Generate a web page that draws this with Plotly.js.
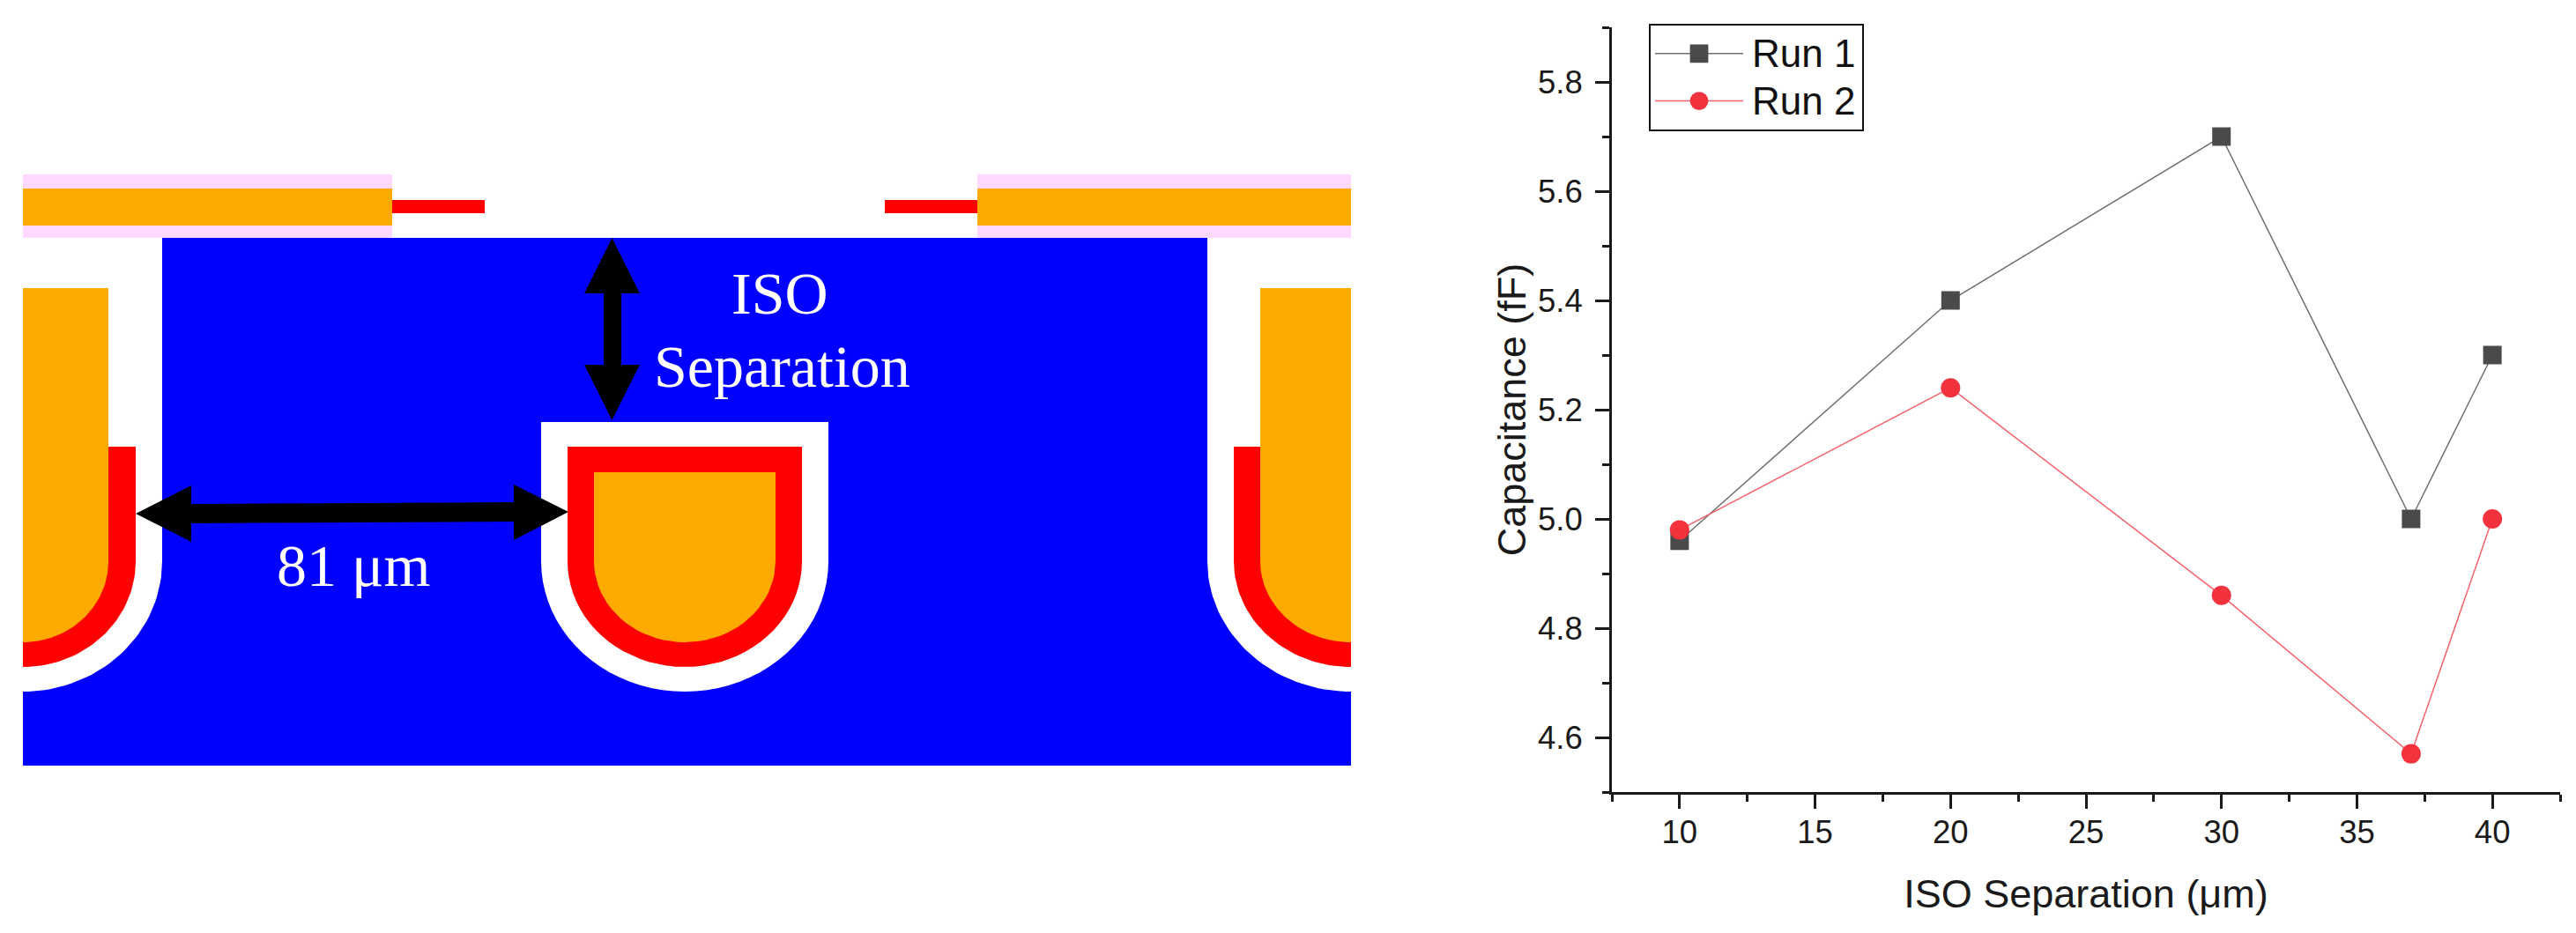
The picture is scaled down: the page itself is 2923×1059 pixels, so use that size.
<!DOCTYPE html>
<html>
<head>
<meta charset="utf-8">
<script src="https://cdn.plot.ly/plotly-3.0.1.min.js"></script>
<style>html,body{margin:0;padding:0;background:#fff}#chart{width:2923px;height:1059px}</style>
</head>
<body>
<div id="chart"></div>
<script>
// ---- Chart data ----
const isoSeparation = [10, 20, 30, 37, 40];
const run1 = [4.96, 5.4, 5.7, 5.0, 5.3];
const run2 = [4.98, 5.24, 4.86, 4.57, 5.0];
const seriesNames = ['Run 1', 'Run 2'];
const xTitle = 'ISO Separation (μm)';
const yTitle = 'Capacitance (fF)';
const diagramLabels = ['ISO', 'Separation', '81 μm'];

// ---- Schematic geometry, in the schematic's own axis units ----
const BLUE = '#0000ff', WHITE = '#ffffff', RED = '#ff0000', ORANGE = '#ffaa00', PINK = '#ffd9ff', BLACK = '#000000';

function rect(x0, y0, x1, y1) { return [[x0, y0], [x1, y0], [x1, y1], [x0, y1]]; }
// A quarter/half of an ellipse sampled from angle a0 to a1 (degrees, 0 = +x, 90 = down)
function arc(cx, cy, rx, ry, a0, a1) {
  const pts = [];
  for (let i = 0; i <= 40; i++) {
    const a = (a0 + (a1 - a0) * i / 40) * Math.PI / 180;
    pts.push([cx + rx * Math.cos(a), cy + ry * Math.sin(a)]);
  }
  return pts;
}
const ARC_Y = 637;
const centreU = (cx, rx, ry, top) => [[cx - rx, top], [cx + rx, top]].concat(arc(cx, ARC_Y, rx, ry, 0, 180));
const leftU = (cx, rx, ry, top) => [[cx, top], [cx + rx, top]].concat(arc(cx, ARC_Y, rx, ry, 0, 90));
const rightU = (cx, rx, ry, top) => [[cx, top], [cx - rx, top]].concat(arc(cx, ARC_Y, rx, ry, 180, 90));

const diagramShapes = [
  [BLUE, rect(26, 270, 1533, 869)],
  [WHITE, leftU(26, 158, 148, 270)],
  [WHITE, rightU(1533, 163, 148, 270)],
  [WHITE, centreU(777, 163, 148, 479)],
  [RED, leftU(26, 128, 120, 507)],
  [RED, rightU(1533, 133, 120, 507)],
  [RED, centreU(777, 133, 120, 507)],
  [ORANGE, leftU(26, 97, 92, 327)],
  [ORANGE, rightU(1533, 103, 92, 327)],
  [ORANGE, centreU(777, 103, 92, 536)],
  [PINK, rect(26, 198, 445, 270)],
  [PINK, rect(1109, 198, 1533, 270)],
  [ORANGE, rect(26, 214, 445, 256)],
  [ORANGE, rect(1109, 214, 1533, 256)],
  [RED, rect(445, 227, 550, 242)],
  [RED, rect(1004, 227, 1109, 242)],
  [BLACK, [[694.5, 270], [726, 333], [705, 333], [705, 414], [726, 414], [694.5, 477], [663, 414], [685, 414], [685, 333], [663, 333]]],
  [BLACK, [[154, 583], [217, 551], [217, 572], [583, 570], [583, 550], [645, 581], [583, 613], [583, 592], [217, 594], [217, 615]]]
];

const diagramTraces = diagramShapes.map(([color, pts]) => ({
  type: 'scatter', mode: 'lines', xaxis: 'x2', yaxis: 'y2',
  x: pts.map(p => p[0]).concat(pts[0][0]),
  y: pts.map(p => p[1]).concat(pts[0][1]),
  fill: 'toself', fillcolor: color, line: {width: 0, color: color},
  hoverinfo: 'skip', showlegend: false
}));

const seriesTraces = [
  {type: 'scatter', mode: 'lines+markers', name: seriesNames[0], x: isoSeparation, y: run1,
   line: {color: '#6e6e6e', width: 1.5}, marker: {symbol: 'square', size: 21, color: '#4a4a4a'}},
  {type: 'scatter', mode: 'lines+markers', name: seriesNames[1], x: isoSeparation, y: run2,
   line: {color: '#f4636b', width: 1.5}, marker: {symbol: 'circle', size: 22, color: '#f2333d'}}
];

const W = 2923, H = 1059;
const axisFont = {family: '"Liberation Sans", Arial, sans-serif', size: 36.5, color: '#1a1a1a'};
const titleFont = {family: '"Liberation Sans", Arial, sans-serif', size: 45, color: '#1a1a1a'};
const serifWhite = {family: '"Liberation Serif", "Times New Roman", serif', size: 68, color: '#ffffff'};

const layout = {
  width: W, height: H,
  margin: {l: 0, r: 0, t: 0, b: 0, pad: 0},
  paper_bgcolor: '#ffffff', plot_bgcolor: 'rgba(0,0,0,0)',
  showlegend: true,
  legend: {
    x: 1871 / W, y: 1 - 27 / H, xanchor: 'left', yanchor: 'top',
    bgcolor: '#ffffff', bordercolor: '#111111', borderwidth: 2,
    font: {family: '"Liberation Sans", Arial, sans-serif', size: 39, color: '#111111'},
    itemwidth: 100, tracegroupgap: 0
  },
  xaxis: {
    domain: [1829 / W, 2905 / W], range: [7.5, 42.5], anchor: 'y',
    tick0: 0, dtick: 5, ticks: 'outside', ticklen: 16, tickwidth: 3, tickcolor: '#1a1a1a',
    minor: {tick0: 0, dtick: 2.5, ticks: 'outside', ticklen: 8, tickwidth: 3, tickcolor: '#1a1a1a', showgrid: false},
    showline: true, linecolor: '#1a1a1a', linewidth: 3, showgrid: false, zeroline: false,
    tickfont: axisFont, ticklabelstandoff: -5,
    title: {text: xTitle, font: titleFont, standoff: 35}
  },
  yaxis: {
    domain: [1 - 899 / H, 1 - 31 / H], range: [4.5, 5.9], anchor: 'x',
    tick0: 0, dtick: 0.2, tickformat: '.1f', ticks: 'outside', ticklen: 16, tickwidth: 3, tickcolor: '#1a1a1a',
    minor: {tick0: 0, dtick: 0.1, ticks: 'outside', ticklen: 8, tickwidth: 3, tickcolor: '#1a1a1a', showgrid: false},
    showline: true, linecolor: '#1a1a1a', linewidth: 3, showgrid: false, zeroline: false,
    tickfont: axisFont, ticklabelstandoff: 7,
    title: {text: yTitle, font: titleFont, standoff: 0}
  },
  xaxis2: {domain: [0, 1700 / W], range: [0, 1700], anchor: 'y2', visible: false, fixedrange: true},
  yaxis2: {domain: [0, 1], range: [H, 0], anchor: 'x2', visible: false, fixedrange: true},
  annotations: [
    {xref: 'x2', yref: 'y2', x: 885, y: 357, text: diagramLabels[0], showarrow: false, font: serifWhite, xanchor: 'center', yanchor: 'bottom', yshift: -16},
    {xref: 'x2', yref: 'y2', x: 887, y: 440, text: diagramLabels[1], showarrow: false, font: serifWhite, xanchor: 'center', yanchor: 'bottom', yshift: -16},
    {xref: 'x2', yref: 'y2', x: 401, y: 666, text: diagramLabels[2], showarrow: false, font: serifWhite, xanchor: 'center', yanchor: 'bottom', yshift: -16}
  ]
};

Plotly.newPlot('chart', diagramTraces.concat(seriesTraces), layout, {displayModeBar: false, staticPlot: true}).then(gd => {
  // Plotly caps legend markers and ties row height to the font: enlarge glyphs and box to match the reference legend
  gd.querySelectorAll('.legend .legendtext').forEach(t => {
    t.style.fontSize = '44px';
    t.setAttribute('x', parseFloat(t.getAttribute('x') || 0) + 5);
  });
  gd.querySelectorAll('.legend .legendpoints path').forEach(p => {
    p.setAttribute('transform', (p.getAttribute('transform') || '') + ' scale(1.3)');
  });
  gd.querySelectorAll('.legend rect.bg, clipPath[id^="legend"] rect').forEach(r => {
    r.setAttribute('width', parseFloat(r.getAttribute('width')) + 20);
  });
});
</script>
</body>
</html>
